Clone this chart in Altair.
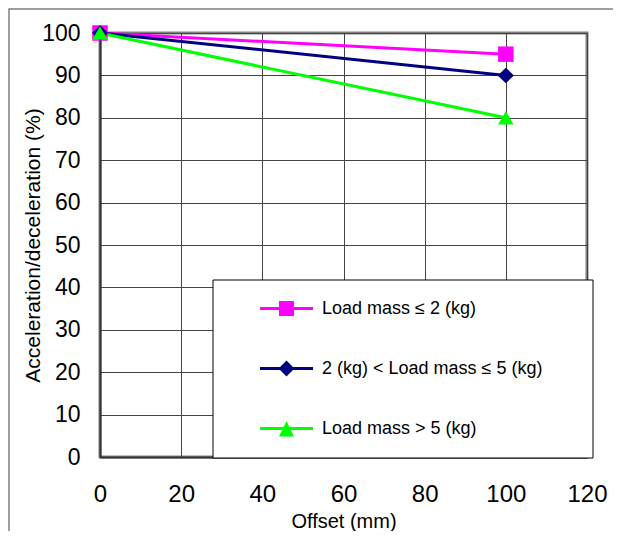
import altair as alt
import pandas as pd

series = ["Load mass ≤ 2 (kg)", "2 (kg) < Load mass ≤ 5 (kg)", "Load mass > 5 (kg)"]
colors = ["#FF00FF", "#000080", "#00FF00"]
shapes = ["square", "M-1.05,0L0,-1L1.05,0L0,1Z", "triangle-up"]
offsets = [0, 100]
values_light = [100, 95]
values_mid = [100, 90]
values_heavy = [100, 80]
x_ticks = [0, 20, 40, 60, 80, 100, 120]
y_ticks = [0, 10, 20, 30, 40, 50, 60, 70, 80, 90, 100]

# legend symbols: horizontal line with the marker on it (custom SVG paths)
legend_paths = [
    "M-1,-0.057H1V0.057H-1Z M-0.283,-0.283H0.283V0.283H-0.283Z",
    "M-1,-0.057H1V0.057H-1Z M0,-0.3L0.3,0L0,0.3L-0.3,0Z",
    "M-1,-0.057H1V0.057H-1Z M0,-0.283L0.283,0.3L-0.283,0.3Z",
]

rows = []
for s, vals in zip(series, [values_light, values_mid, values_heavy]):
    for o, v in zip(offsets, vals):
        rows.append({"series": s, "offset": o, "value": v})
df = pd.DataFrame(rows)

FONT = "Liberation Sans"

x_enc = alt.X(
    "offset:Q",
    scale=alt.Scale(domain=[0, 120], nice=False),
    axis=alt.Axis(values=x_ticks, title="Offset (mm)", labelFontSize=24,
                  labelPadding=25, labelFlush=False, titleFontSize=20, titleY=64,
                  titleBaseline="middle"),
)
y_enc = alt.Y(
    "value:Q",
    scale=alt.Scale(domain=[0, 100], nice=False),
    axis=alt.Axis(values=y_ticks, title="Acceleration/deceleration (%)",
                  labelFontSize=23, labelPadding=20, labelFlush=False,
                  titleFontSize=21, titleX=-67, titleBaseline="middle"),
)
color_scale = alt.Scale(domain=series, range=colors)

base = alt.Chart(df)

lines = base.mark_line(strokeWidth=3).encode(
    x=x_enc, y=y_enc,
    color=alt.Color("series:N", scale=color_scale, legend=None),
)

points = base.mark_point(filled=True, opacity=1, size=240).encode(
    x=x_enc, y=y_enc,
    color=alt.Color("series:N", scale=color_scale, legend=None),
    shape=alt.Shape("series:N", scale=alt.Scale(domain=series, range=shapes), legend=None),
)

one = pd.DataFrame({"k": [0]})

frame = alt.Chart(one).mark_rect(fillOpacity=0, stroke="#808080", strokeWidth=1.5).encode(
    x=alt.value(-91), x2=alt.value(700), y=alt.value(-24), y2=alt.value(700)
)

legend_box = alt.Chart(one).mark_rect(fill="white", stroke="black", strokeWidth=1).encode(
    x=alt.value(113), x2=alt.value(493), y=alt.value(247), y2=alt.value(425)
)

leg = alt.Legend(
    title=None, orient="none", legendX=160, legendY=249, padding=0,
    symbolSize=2809, symbolStrokeWidth=0, symbolOpacity=1,
    labelFontSize=18, labelFont=FONT, labelColor="black", labelOffset=9,
    rowPadding=24, symbolOffset=0, labelLimit=500,
)

legend_layer = base.transform_filter("false").mark_point(filled=True, opacity=1).encode(
    color=alt.Color("series:N", scale=color_scale, legend=leg),
    shape=alt.Shape("series:N", scale=alt.Scale(domain=series, range=legend_paths), legend=leg),
)

chart = alt.layer(frame, lines, points, legend_box, legend_layer).resolve_scale(
    color="independent", shape="independent"
).properties(
    width=487, height=424,
    autosize=alt.AutoSizeParams(type="none"),
    padding={"left": 92, "top": 25, "right": 26, "bottom": 74},
).configure_view(
    stroke="#808080", strokeWidth=3
).configure_axis(
    labelFont=FONT, titleFont=FONT, labelColor="black", titleColor="black",
    titleFontWeight="normal", tickSize=0, gridColor="#444444", gridWidth=1,
    domainColor="#333333", domainWidth=2,
)

chart.save("out.html", embed_options={"renderer": "svg", "actions": False})
